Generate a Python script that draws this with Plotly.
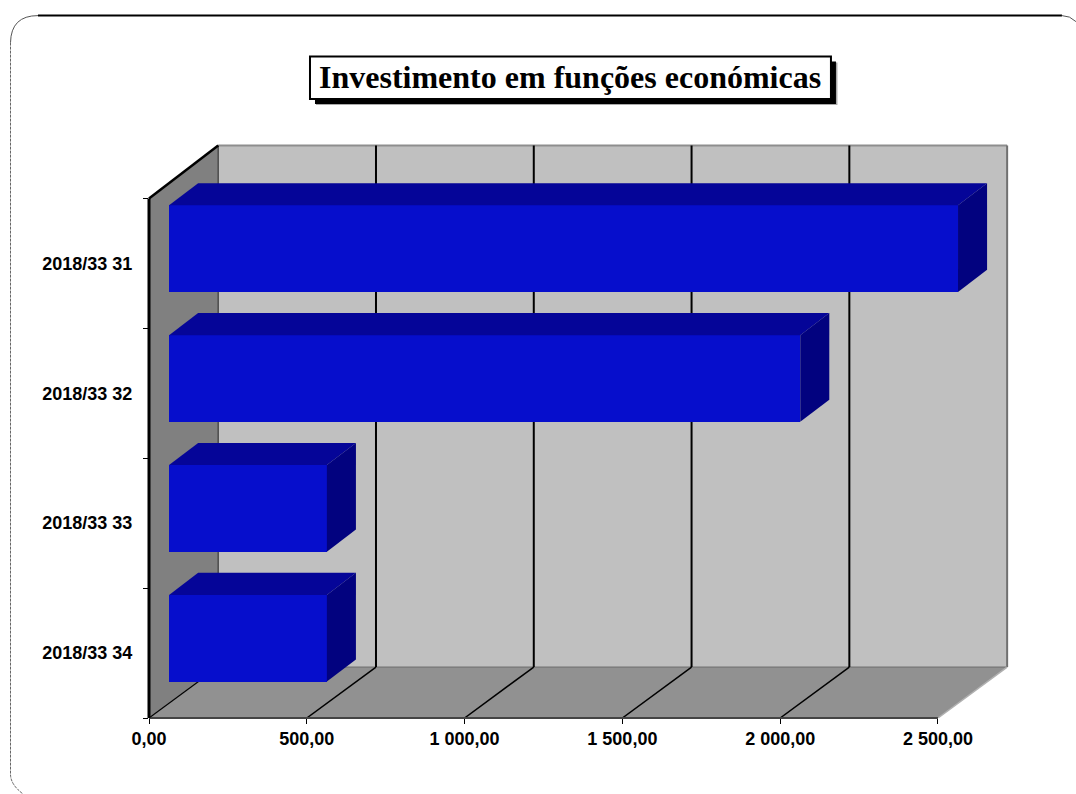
import plotly.graph_objects as go

# ---- data ----
categories = ["2018/33 31", "2018/33 32", "2018/33 33", "2018/33 34"]
values = [2500, 2000, 500, 500]
x_ticks = [0, 500, 1000, 1500, 2000, 2500]
x_tick_labels = ["0,00", "500,00", "1 000,00", "1 500,00", "2 000,00", "2 500,00"]
title_text = "Investimento em funções económicas"

# ---- styles ----
W, H = 1076, 794
X0_PX, Y0_PX = 149.0, 718.0
PX_PER_X = (938 - 149) / 2500
PX_PER_BAND = 130.0
DX = 69.2 / PX_PER_X       # full depth of the chart in value units
DY = 51 / PX_PER_BAND      # full depth of the floor in band units
DY_TOP = 53 / PX_PER_BAND  # depth rise at the top edge of the walls
XMAX = 2760
YMAX = 4.45
L, R = X0_PX, X0_PX + XMAX * PX_PER_X
B, T = Y0_PX, Y0_PX - YMAX * PX_PER_BAND
D_FRONT = 0.29
D_EXT_X, D_EXT_Y = 0.42, 0.435
BAR_W = 0.667
C_FRONT, C_TOP, C_SIDE = "#060ECC", "#050598", "#02027F"
C_WALL, C_LEFT, C_FLOOR = "#C0C0C0", "#808080", "#919191"
N = len(categories)
bands = [N - 1 - i + 0.5 for i in range(N)]


def px(x):
    return (x - L) / (R - L)


def py(y):
    return (B - y) / (B - T)


def vx(v):
    return px(X0_PX + v * PX_PER_X)


def vy(b):
    return py(Y0_PX - b * PX_PER_BAND)


def poly(pts, color):
    path = "M " + " L ".join(f"{a},{b}" for a, b in pts) + " Z"
    return dict(type="path", xref="x", yref="y", path=path, fillcolor=color,
                line=dict(width=0), layer="below")


def seg(a, b, color, width):
    return dict(type="line", xref="x", yref="y", x0=a[0], y0=a[1], x1=b[0], y1=b[1],
                line=dict(color=color, width=width), layer="below")


def edge(a, b, color, width):
    # Paper-referenced so that the stroke is not clipped at the plot area
    return dict(type="line", xref="paper", yref="paper", x0=vx(a[0]), y0=vy(a[1]),
                x1=vx(b[0]), y1=vy(b[1]), line=dict(color=color, width=width), layer="above")


xmax_axis = x_ticks[-1]
top_back = N + DY_TOP
shapes = [
    poly([(DX, DY), (xmax_axis + DX, DY), (xmax_axis + DX, top_back), (DX, top_back)], C_WALL),
    poly([(0, 0), (DX, DY), (DX, top_back), (0, N)], C_LEFT),
    poly([(0, 0), (xmax_axis, 0), (xmax_axis + DX, DY), (DX, DY)], C_FLOOR),
]
shapes.append(seg((DX, DY), (xmax_axis + DX, DY), "#6E6E6E", 1))
shapes.append(seg((DX, top_back), (xmax_axis + DX, top_back), "#8E8E8E", 2))
shapes.append(seg((DX, DY), (DX, top_back), "#222222", 1))
for t in x_ticks[1:-1]:
    shapes.append(seg((t + DX, DY), (t + DX, top_back), "#000000", 2))
    shapes.append(seg((t, 0), (t + DX, DY), "#000000", 1.5))
shapes.append(seg((xmax_axis + DX, DY), (xmax_axis + DX, top_back), "#707070", 2))
shapes.append(seg((xmax_axis, 0), (xmax_axis + DX, DY), "#B0B0B0", 1.5))
shapes.append(seg((0, 0), (DX, DY), "#000000", 1.2))
shapes.append(edge((0, N), (DX, top_back), "#000000", 2.5))
shapes.append(edge((0, 0), (xmax_axis, 0), "#444444", 2))
shapes.append(edge((0, 0), (0, N), "#000000", 3))

# Frame and title box (paper coordinates derived from pixels)
left_path = f"M {px(10.5)},{py(42)} L {px(10.5)},{py(775)} Q {px(11)},{py(785)} {px(23)},{py(794)}"
shapes.append(dict(type="path", xref="paper", yref="paper", path=left_path,
                   line=dict(color="#666666", width=1, dash="3px,1px"), layer="above"))
shapes.append(dict(type="path", xref="paper", yref="paper", path=f"M {px(38)},{py(15)} L {px(1062)},{py(15)}",
                   line=dict(color="#000000", width=2), layer="above"))
shapes.append(dict(type="path", xref="paper", yref="paper", path=f"M {px(10.5)},{py(42)} Q {px(11)},{py(15)} {px(38)},{py(15)}",
                   line=dict(color="#555555", width=1), layer="above"))
shapes.append(dict(type="path", xref="paper", yref="paper", path=f"M {px(1062)},{py(15)} Q {px(1070)},{py(15)} {px(1076)},{py(21)}",
                   line=dict(color="#555555", width=1), layer="above"))
shapes.append(dict(type="rect", xref="paper", yref="paper", x0=px(316), x1=px(837.5), y0=py(104.5), y1=py(62),
                   fillcolor="#AAAAAA", line=dict(width=0), layer="above"))
shapes.append(dict(type="rect", xref="paper", yref="paper", x0=px(315), x1=px(836), y0=py(103.5), y1=py(61),
                   fillcolor="#000000", line=dict(width=0), layer="above"))
shapes.append(dict(type="rect", xref="paper", yref="paper", x0=px(310), x1=px(831), y0=py(98.5), y1=py(56),
                   fillcolor="#FFFFFF", line=dict(color="#000000", width=2), layer="above"))

fig = go.Figure()

# Front faces of the bars
fig.add_trace(go.Bar(
    orientation="h",
    x=values,
    y=[b + D_FRONT * DY for b in bands],
    base=[D_FRONT * DX] * N,
    width=BAR_W,
    marker=dict(color=C_FRONT, line=dict(width=0)),
    hoverinfo="skip",
    showlegend=False,
))

# Top and side faces of the bars, projected from the same values
for v, b in zip(values, bands):
    x1 = D_FRONT * DX
    x2 = x1 + v
    yc = b + D_FRONT * DY
    y_low, y_up = yc - BAR_W / 2, yc + BAR_W / 2
    ex, ey = D_EXT_X * DX, D_EXT_Y * DY
    fig.add_trace(go.Scatter(
        x=[x1, x2, x2 + ex, x1 + ex, x1],
        y=[y_up, y_up, y_up + ey, y_up + ey, y_up],
        mode="lines", fill="toself", fillcolor=C_TOP, line=dict(width=0),
        hoverinfo="skip", showlegend=False))
    fig.add_trace(go.Scatter(
        x=[x2, x2 + ex, x2 + ex, x2, x2],
        y=[y_up, y_up + ey, y_low + ey, y_low, y_up],
        mode="lines", fill="toself", fillcolor=C_SIDE, line=dict(width=0),
        hoverinfo="skip", showlegend=False))

tick_font = dict(family="Liberation Sans, Arial, sans-serif", size=18, color="#000000", weight="bold")

fig.update_layout(
    width=W, height=H,
    margin=dict(l=L, r=W - R, t=T, b=H - B, pad=0),
    paper_bgcolor="#FFFFFF", plot_bgcolor="#FFFFFF",
    showlegend=False, bargap=0,
    shapes=shapes,
    xaxis=dict(range=[0, XMAX], tickmode="array", tickvals=x_ticks, ticktext=x_tick_labels,
               ticks="outside", ticklen=5, tickwidth=1, tickcolor="#000000", ticklabelstandoff=-1,
               showgrid=False, zeroline=False, showline=False, tickfont=tick_font),
    yaxis=dict(range=[0, YMAX], tickmode="array", tickvals=bands, ticktext=categories,
               ticks="outside", ticklen=12, tickwidth=1, tickcolor="rgba(0,0,0,0)",
               minor=dict(tickmode="array", tickvals=list(range(N + 1)), ticks="outside",
                          ticklen=5, tickwidth=1, tickcolor="#000000", showgrid=False),
               showgrid=False, zeroline=False, showline=False, tickfont=tick_font),
    annotations=[dict(
        xref="paper", yref="paper", x=px(570), y=py(76), xanchor="center", yanchor="middle",
        text=f"<b>{title_text}</b>", showarrow=False,
        font=dict(family="Liberation Serif, serif", size=32, color="#000000"),
    )],
)

fig.write_html("out.html", config=dict(displayModeBar=False),
               post_script="document.body.style.margin='0';document.body.style.overflow='hidden';")
